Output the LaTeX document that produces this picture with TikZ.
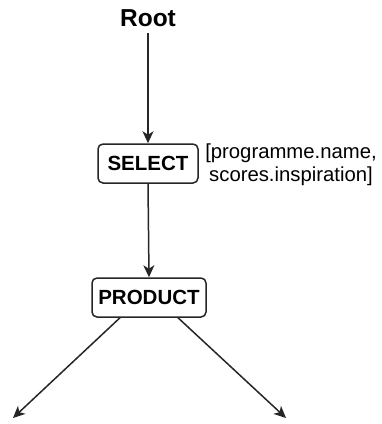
\documentclass[tikz,border=0pt]{standalone}
\usepackage{fontspec}
\setmainfont{Liberation Sans}
\usetikzlibrary{arrows.meta,calc}
\begin{document}
\begin{tikzpicture}[x=1pt,y=-1pt,
  opbox/.style={draw=black!85,line width=1.5pt,rounded corners=5pt,minimum width=100pt,minimum height=39pt,inner sep=0pt,font=\fontsize{20.5}{24}\selectfont\bfseries},
  conn/.style={draw=black!85,line width=1.5pt,-{Stealth[length=12pt,width=11pt,inset=3.5pt]}}]
\useasboundingbox (0,0) rectangle (382,424);
\node[font=\fontsize{24.5}{28}\selectfont\bfseries,inner sep=0pt,minimum height=30pt] (root) at (148,18) {Root};
\node[opbox] (sel) at (148,163.5) {SELECT};
\node[align=center,font=\fontsize{20.3}{23}\selectfont,inner sep=0pt] (lbl) at (291,164.5) {[programme.name,\\scores.inspiration]};
\node[opbox,minimum width=114pt] (prod) at (149,297.5) {PRODUCT};
\coordinate (l) at (13,418);
\coordinate (r) at (286,418);
\draw[conn] (root.south) -- (sel.north);
\draw[conn] (sel.south) -- (prod.north);
\draw[conn] ($(prod.south)+(-29,0)$) -- (l);
\draw[conn] ($(prod.south)+(29,0)$) -- (r);
\end{tikzpicture}
\end{document}
